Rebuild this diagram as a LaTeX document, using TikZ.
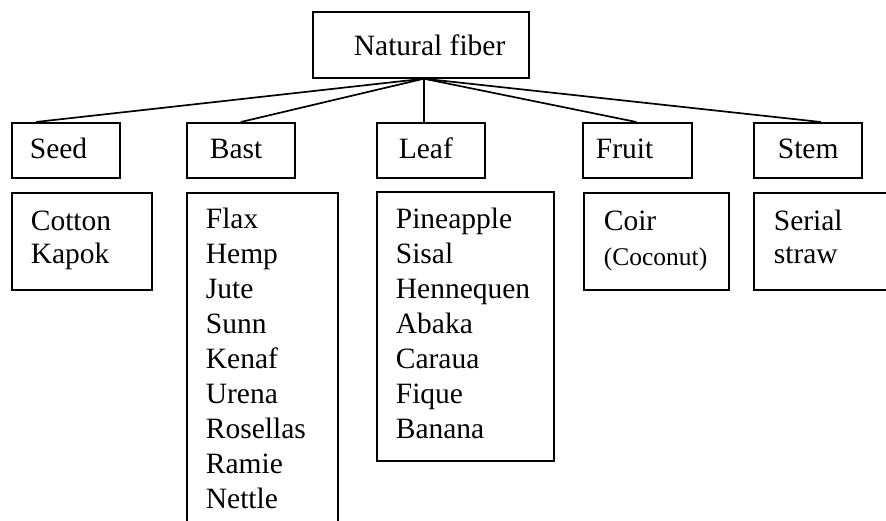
\documentclass[tikz,border=0pt]{standalone}
\usepackage{fontspec}
\setmainfont{Liberation Serif}
\usetikzlibrary{positioning}
\tikzset{
    box/.style={
           rectangle,
           draw=black, line width=1.7pt,
           anchor=north west,
           inner sep=0pt,
           },
    item/.style={anchor=base west, inner sep=0pt, font=\fontsize{29.5}{35}\selectfont},
}

\begin{document}
\begin{tikzpicture}[x=1pt,y=-1pt,line width=1.7pt]
  \clip (0,0) rectangle (886,520);

  % root
  \node[box, minimum width=216, minimum height=66] (nf)    at (312,11)  {};
  \node[item]                                      (nftxt) at (353,55)  {Natural fiber};

  % categories
  \node[box, minimum width=108, minimum height=55] (seed)  at (11,122)  {};
  \node[box, minimum width=108, minimum height=55] (bast)  at (186,122) {};
  \node[box, minimum width=108, minimum height=55] (leaf)  at (376,122) {};
  \node[box, minimum width=109, minimum height=55] (fruit) at (582,122) {};
  \node[box, minimum width=108, minimum height=55] (stem)  at (753,122) {};
  \node[item] (seedtxt)  at (29,158)  {Seed};
  \node[item] (basttxt)  at (209,158) {Bast};
  \node[item] (leaftxt)  at (398,158) {Leaf};
  \node[item] (fruittxt) at (595,158) {Fruit};
  \node[item] (stemtxt)  at (777,158) {Stem};

  % lists
  \node[box, minimum width=140, minimum height=97]  (seedlist)  at (11,192)  {};
  \node[box, minimum width=151, minimum height=360] (bastlist)  at (186,192) {};
  \node[box, minimum width=177, minimum height=269] (leaflist)  at (376,191) {};
  \node[box, minimum width=145, minimum height=97]  (fruitlist) at (583,192) {};
  \node[box, minimum width=160, minimum height=97]  (stemlist)  at (753,192) {};

  \foreach \name [count=\i from 0] in {Cotton, Kapok}
    \node[item] (seed-\i) at (30,230+33*\i) {\name};
  \foreach \name [count=\i from 0] in {Flax, Hemp, Jute, Sunn, Kenaf, Urena, Rosellas, Ramie, Nettle}
    \node[item] (bast-\i) at (205,228+35*\i) {\name};
  \foreach \name [count=\i from 0] in {Pineapple, Sisal, Hennequen, Abaka, Caraua, Fique, Banana}
    \node[item] (leaf-\i) at (395,228+35*\i) {\name};
  \node[item] (fruit-0) at (603,230) {Coir};
  \node[item, font=\fontsize{25.5}{30}\selectfont] (fruit-1) at (603,265) {(Coconut)};
  \node[item] (stem-0) at (773,230) {Serial};
  \node[item] (stem-1) at (773,263) {straw};

  % connectors
  \draw ([xshift=3]nf.south) -- ([xshift=-30]seed.north);
  \draw ([xshift=3]nf.south) -- (bast.north);
  \draw ([xshift=3]nf.south) -- ([xshift=-7]leaf.north);
  \draw ([xshift=3]nf.south) -- ([xshift=-1]fruit.north);
  \draw ([xshift=3]nf.south) -- ([xshift=13]stem.north);
\end{tikzpicture}
\end{document}
